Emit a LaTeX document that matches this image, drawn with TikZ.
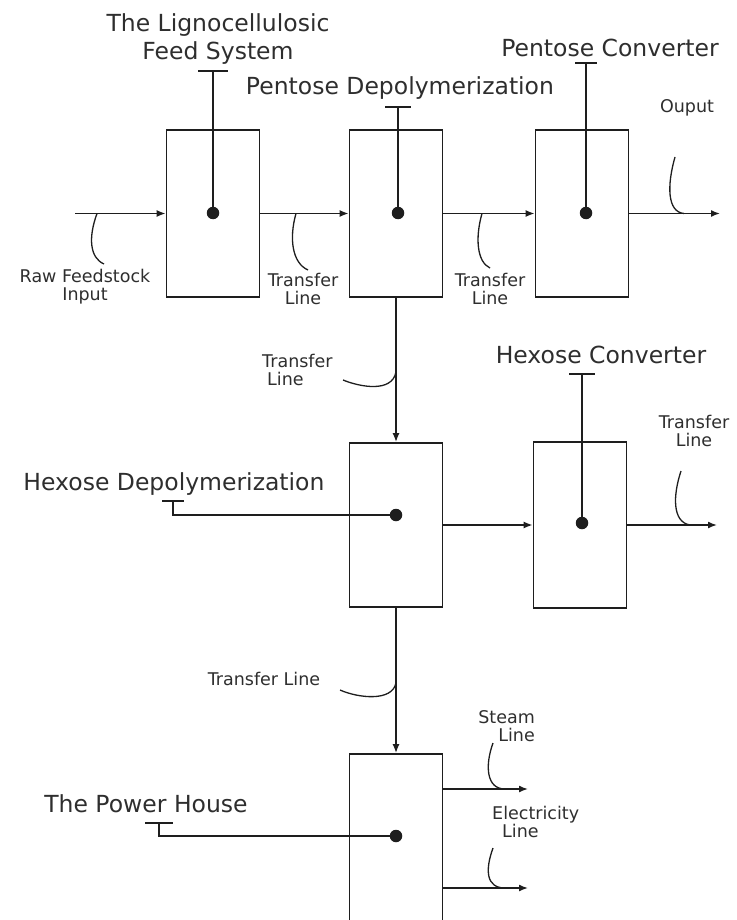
\documentclass[tikz,border=0pt]{standalone}
\usepackage{fontspec}
\setmainfont{DejaVu Sans}
\usetikzlibrary{arrows.meta}
\definecolor{InkDark}{HTML}{1E1E1E}
\definecolor{LabelGray}{HTML}{2E2E2E}

\begin{document}
\begin{tikzpicture}[x=1pt,y=-1pt,
    every node/.style={text=LabelGray},
    unit/.style={draw=InkDark, line width=1.8pt, minimum width=93pt, inner sep=0pt},
    dot/.style={circle, fill=InkDark, inner sep=0pt, minimum size=12.5pt},
    big/.style={font=\fontsize{23.5}{28}\selectfont, align=center, anchor=base, inner sep=0pt},
    tag/.style={font=\fontsize{17.5}{17.5}\selectfont, align=center, anchor=base, inner sep=0pt},
    ar/.style={-{Latex[length=9pt,width=7pt]}, line width=1.5pt, InkDark},
    ln/.style={line width=1.6pt, InkDark},
    hook/.style={line width=1.3pt, InkDark}]
  \useasboundingbox (0,0) rectangle (736,920);

  % process units
  \node[unit, minimum height=167pt] (feed) at (213,213.5) {};
  \node[unit, minimum height=167pt] (pdep) at (396,213.5) {};
  \node[unit, minimum height=167pt] (pcon) at (582,213.5) {};
  \node[unit, minimum height=164pt] (hdep) at (396,525) {};
  \node[unit, minimum height=166pt] (hcon) at (580,525) {};
  \node[unit, minimum height=168pt] (power) at (396,838) {};

  \node[dot] (d1) at (213,213) {};
  \node[dot] (d2) at (398,213) {};
  \node[dot] (d3) at (586,213) {};
  \node[dot] (d4) at (396,515) {};
  \node[dot] (d5) at (582,523) {};
  \node[dot] (d6) at (396,836) {};

  % unit names (base = last line)
  \node[big] (feedlbl) at (218,60) {The Lignocellulosic\\Feed System};
  \node[big] (pdeplbl) at (400,95) {Pentose Depolymerization};
  \node[big] (pconlbl) at (610,57) {Pentose Converter};
  \node[big] (hconlbl) at (601,363) {Hexose Converter};
  \node[big] (hdeplbl) at (174,490) {Hexose Depolymerization};
  \node[big] (powerlbl) at (146,812) {The Power House};

  \coordinate (t1) at (213,71);  \coordinate (t2) at (398,107);
  \coordinate (t3) at (586,63);  \coordinate (t4) at (173,501);
  \coordinate (t5) at (582,374); \coordinate (t6) at (159,823);
  \draw[ln] (t1) ++(-15,0) -- ++(30,0);  \draw[ln] (t1) -- (d1);
  \draw[ln] (t2) ++(-13,0) -- ++(26,0);  \draw[ln] (t2) -- (d2);
  \draw[ln] (t3) ++(-11,0) -- ++(22,0);  \draw[ln] (t3) -- (d3);
  \draw[ln] (t5) ++(-13,0) -- ++(26,0);  \draw[ln] (t5) -- (d5);
  \draw[ln] (t4) ++(-11,0) -- ++(22,0);  \draw[ln] (t4) -- (t4 |- d4) -- (d4);
  \draw[ln] (t6) ++(-14,0) -- ++(28,0);  \draw[ln] (t6) -- (t6 |- d6) -- (d6);

  % flow lines
  \coordinate (in) at (75,213.5);
  \coordinate (out1) at (720,213.5);
  \coordinate (out2) at (717,525);
  \coordinate (steam) at (528,789);
  \coordinate (elec) at (528,888);
  \draw[ar] (in) -- (feed);
  \draw[ar] (feed) -- (pdep);
  \draw[ar] (pdep) -- (pcon);
  \draw[ar] (pcon) -- (out1);
  \draw[ar] (pdep) -- (hdep);
  \draw[ar] (hdep) -- (hcon);
  \draw[ar] (hcon) -- (out2);
  \draw[ar] (hdep) -- (power);
  \draw[ar] (power.east |- steam) -- (steam);
  \draw[ar] (power.east |- elec) -- (elec);

  % line labels (base = last line)
  \node[tag] (rawlbl) at (85,300) {Raw Feedstock\\Input};
  \node[tag] (tr1lbl) at (303,304) {Transfer\\Line};
  \node[tag] (tr2lbl) at (490,304) {Transfer\\Line};
  \node[tag] (outlbl) at (687,113) {Ouput};
  \node[tag, align=left, anchor=base west] (tr3lbl) at (262,385) {Transfer\\\hspace{5pt}Line};
  \node[tag] (tr4lbl) at (694,446) {Transfer\\Line};
  \node[tag] (tr5lbl) at (264,685) {Transfer Line};
  \node[tag, align=right, anchor=base east] (steamlbl) at (535,741) {Steam\\Line};
  \node[tag, align=left, anchor=base west] (eleclbl) at (492,837) {Electricity\\\hspace{10pt}Line};

  % leader hooks
  \coordinate (rawA) at (104,264);  \coordinate (rawB) at (97,213.5);
  \coordinate (tr1A) at (308,270);  \coordinate (tr1B) at (296,213.5);
  \coordinate (tr2A) at (490,268);  \coordinate (tr2B) at (482,213.5);
  \coordinate (outA) at (675,157);  \coordinate (outB) at (684,213.5);
  \coordinate (tr3A) at (343,380);  \coordinate (tr3B) at (396,372);
  \coordinate (tr4A) at (681,471);  \coordinate (tr4B) at (690,525);
  \coordinate (tr5A) at (340,690);  \coordinate (tr5B) at (396,683);
  \coordinate (stmA) at (493,743);  \coordinate (stmB) at (505,789);
  \coordinate (elcA) at (493,848);  \coordinate (elcB) at (505,888);
  \draw[hook] (rawA) .. controls (90,258) and (88,238) .. (rawB);
  \draw[hook] (tr1A) .. controls (292,263) and (289,238) .. (tr1B);
  \draw[hook] (tr2A) .. controls (477,262) and (475,238) .. (tr2B);
  \draw[hook] (outA) .. controls (667,185) and (667,212) .. (outB);
  \draw[hook] (tr3A) .. controls (360,387) and (392,393) .. (tr3B);
  \draw[hook] (tr4A) .. controls (673,495) and (672,522) .. (tr4B);
  \draw[hook] (tr5A) .. controls (358,698) and (392,702) .. (tr5B);
  \draw[hook] (stmA) .. controls (485,765) and (486,789) .. (stmB);
  \draw[hook] (elcA) .. controls (485,870) and (486,888) .. (elcB);
\end{tikzpicture}
\end{document}
